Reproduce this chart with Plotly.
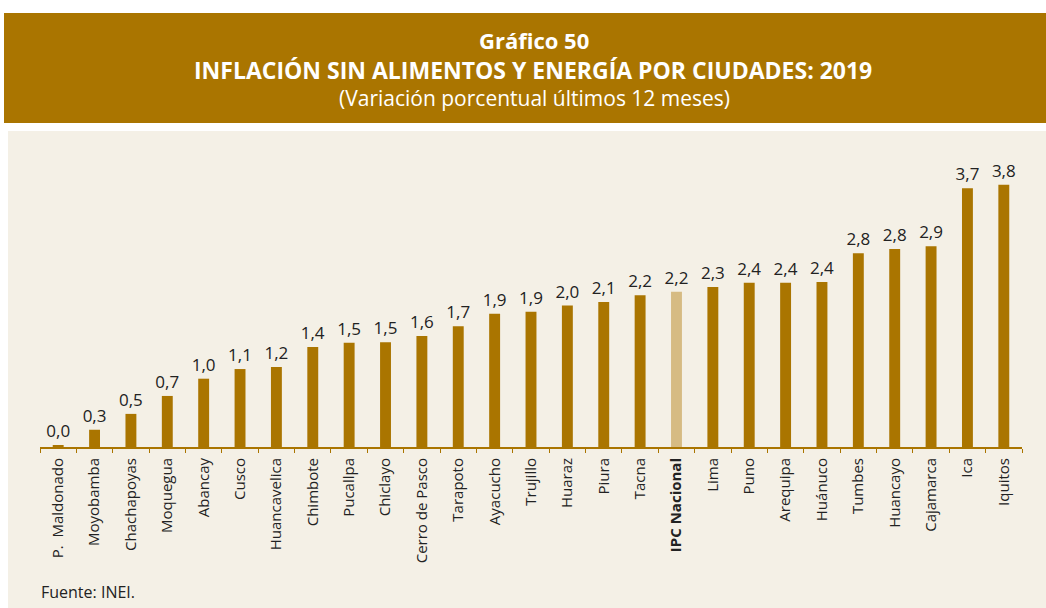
import plotly.graph_objects as go

cities = ["P.  Maldonado", "Moyobamba", "Chachapoyas", "Moquegua", "Abancay", "Cusco",
          "Huancavelica", "Chimbote", "Pucallpa", "Chiclayo", "Cerro de Pasco", "Tarapoto",
          "Ayacucho", "Trujillo", "Huaraz", "Piura", "Tacna", "IPC Nacional", "Lima", "Puno",
          "Arequipa", "Huánuco", "Tumbes", "Huancayo", "Cajamarca", "Ica", "Iquitos"]
values = [0.02, 0.25, 0.48, 0.74, 0.99, 1.13, 1.16, 1.45, 1.51, 1.52, 1.61, 1.75,
          1.93, 1.96, 2.05, 2.10, 2.20, 2.25, 2.32, 2.38, 2.38, 2.39, 2.81, 2.87, 2.91, 3.75, 3.80]
labels = ["0,0", "0,3", "0,5", "0,7", "1,0", "1,1", "1,2", "1,4", "1,5", "1,5", "1,6", "1,7",
          "1,9", "1,9", "2,0", "2,1", "2,2", "2,2", "2,3", "2,4", "2,4", "2,4", "2,8", "2,8",
          "2,9", "3,7", "3,8"]
highlight = "IPC Nacional"

BROWN = "#AA7500"
LIGHT = "#D6BB83"
BEIGE = "#F4F0E6"

colors = [LIGHT if c == highlight else BROWN for c in cities]
ticktext = [f"<b>{c}</b>" if c == highlight else c for c in cities]

fig = go.Figure(go.Bar(
    x=cities, y=values, marker=dict(color=colors, line=dict(width=0)),
    text=labels, textposition="outside", cliponaxis=False, constraintext="none",
    textfont=dict(size=17, color="#222222", family="Open Sans"),
))

W, H = 1046, 608
L, R, T, B = 40, 24, 140, 161
pw, ph = W - L - R, H - T - B

def px(x):
    return (x - L) / pw

def py(y):
    return (H - B - y) / ph

shapes = [
    dict(type="rect", xref="paper", yref="paper", x0=px(4), x1=px(1046), y0=py(123), y1=py(13),
         fillcolor=BROWN, line=dict(width=0), layer="below"),
    dict(type="rect", xref="paper", yref="paper", x0=px(8), x1=px(1046), y0=py(608), y1=py(131),
         fillcolor=BEIGE, line=dict(width=0), layer="below"),
]

annotations = [
    dict(text="<b>Gráfico 50</b>", x=px(534), y=py(40), xref="paper", yref="paper",
         yanchor="middle", showarrow=False, font=dict(size=22, color="white", family="Open Sans")),
    dict(text="<b>INFLACIÓN SIN ALIMENTOS Y ENERGÍA POR CIUDADES: 2019</b>", x=px(533), y=py(70),
         xref="paper", yref="paper", yanchor="middle", showarrow=False,
         font=dict(size=23, color="white", family="Open Sans")),
    dict(text="(Variación porcentual últimos 12 meses)", x=px(534), y=py(98),
         xref="paper", yref="paper", yanchor="middle", showarrow=False,
         font=dict(size=21, color="white", family="Open Sans")),
    dict(text="Fuente: INEI.", x=px(39), y=py(592), xref="paper", yref="paper",
         xanchor="left", yanchor="middle", showarrow=False,
         font=dict(size=16, color="#222222", family="Open Sans")),
]

fig.update_layout(
    width=W, height=H,
    margin=dict(l=L, r=R, t=T, b=B, pad=0),
    paper_bgcolor="white", plot_bgcolor=BEIGE,
    bargap=0.7, showlegend=False,
    shapes=shapes, annotations=annotations,
    font=dict(family="Open Sans", color="#222222"),
)
fig.update_xaxes(
    tickmode="array", tickvals=cities, ticktext=ticktext, tickangle=-90,
    tickfont=dict(size=15, color="#222222", family="Open Sans"),
    showline=True, linecolor=BROWN, linewidth=2,
    ticks="outside", tickson="boundaries", ticklen=4, tickcolor=BROWN, tickwidth=1,
    ticklabelstandoff=3,
    showgrid=False, fixedrange=True,
)
fig.update_yaxes(range=[0, 4.45], visible=False, showgrid=False, zeroline=False, fixedrange=True)

fig.write_html("out.html", config={"displayModeBar": False},
               post_script="document.body.style.margin='0px';document.body.style.padding='0px';")
